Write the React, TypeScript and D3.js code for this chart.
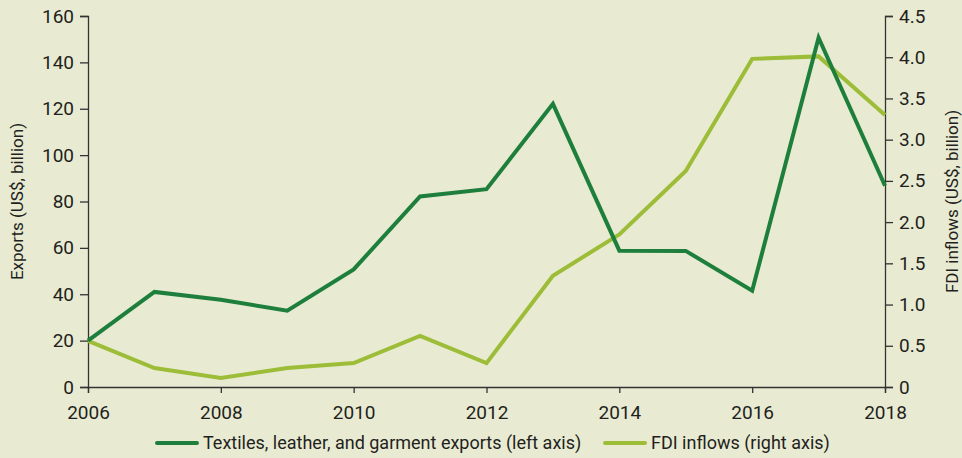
import React, { useEffect, useRef } from 'react';
import * as d3 from 'd3';

// Data
const years = [2006, 2007, 2008, 2009, 2010, 2011, 2012, 2013, 2014, 2015, 2016, 2017, 2018];
const exportsValues = [20, 41, 37.6, 32.9, 50.7, 82.2, 85.3, 122.1, 58.8, 58.7, 41.5, 150.6, 86.8];
const fdiValues = [0.56, 0.23, 0.11, 0.23, 0.29, 0.62, 0.29, 1.35, 1.85, 2.62, 3.98, 4.01, 3.3];
const xTickYears = [2006, 2008, 2010, 2012, 2014, 2016, 2018];
const leftTicks = [0, 20, 40, 60, 80, 100, 120, 140, 160];
const rightTicks = [0, 0.5, 1, 1.5, 2, 2.5, 3, 3.5, 4, 4.5];
const seriesNames = ['Textiles, leather, and garment exports (left axis)', 'FDI inflows (right axis)'];

const FONT = '"Liberation Sans Narrow", "Roboto", sans-serif';
const BG = '#e8ebd2';
const DARK = '#1e7f3c';
const LIGHT = '#9dbd38';
const AXIS = '#333';

const App: React.FC = () => {
  const svgRef = useRef<SVGSVGElement>(null);

  useEffect(() => {
    document.body.style.margin = '0';
    document.body.style.background = BG;

    const width = 962;
    const height = 458;
    const margin = { top: 16, right: 77, bottom: 71, left: 88 };

    const svg = d3.select(svgRef.current);
    svg.selectAll('*').remove();
    svg.attr('width', width).attr('height', height);

    svg.append('rect').attr('width', width).attr('height', height).attr('fill', BG);

    const xScale = d3
      .scaleLinear()
      .domain([2006, 2018])
      .range([margin.left, width - margin.right]);
    const yLeft = d3
      .scaleLinear()
      .domain([0, 160])
      .range([height - margin.bottom, margin.top]);
    const yRight = d3
      .scaleLinear()
      .domain([0, 4.5])
      .range([height - margin.bottom, margin.top]);

    const styleAxis = (g: d3.Selection<SVGGElement, unknown, null, undefined>) => {
      g.select('.domain').attr('stroke', AXIS).attr('stroke-width', 1.3);
      g.selectAll('.tick line').attr('stroke', AXIS).attr('stroke-width', 1.3);
      g.selectAll('.tick text')
        .attr('fill', '#231f20')
        .style('font-family', FONT)
        .style('font-size', '19px');
    };

    // bottom axis
    svg
      .append('g')
      .attr('transform', `translate(0, ${height - margin.bottom})`)
      .call(
        d3
          .axisBottom(xScale)
          .tickValues(xTickYears)
          .tickFormat(d3.format('d'))
          .tickSizeOuter(0)
          .tickSize(6)
          .tickPadding(13)
      )
      .call(styleAxis);

    // left axis
    svg
      .append('g')
      .attr('transform', `translate(${margin.left}, 0)`)
      .call(d3.axisLeft(yLeft).tickValues(leftTicks).tickSizeOuter(0).tickSize(8).tickPadding(6))
      .call(styleAxis);

    // right axis
    svg
      .append('g')
      .attr('transform', `translate(${width - margin.right}, 0)`)
      .call(
        d3
          .axisRight(yRight)
          .tickValues(rightTicks)
          .tickFormat((d) => (d === 0 ? '0' : d3.format('.1f')(d as number)))
          .tickSizeOuter(0)
          .tickSize(8)
          .tickPadding(6)
      )
      .call(styleAxis);

    // axis titles
    svg
      .append('text')
      .attr('transform', `translate(23, ${(height - margin.bottom + margin.top) / 2}) rotate(-90)`)
      .attr('text-anchor', 'middle')
      .attr('fill', '#231f20')
      .style('font-family', FONT)
      .style('font-size', '17px')
      .text('Exports (US$, billion)');

    svg
      .append('text')
      .attr('transform', `translate(958, ${(height - margin.bottom + margin.top) / 2}) rotate(-90)`)
      .attr('text-anchor', 'middle')
      .attr('fill', '#231f20')
      .style('font-family', FONT)
      .style('font-size', '17px')
      .text('FDI inflows (US$, billion)');

    // lines
    const fdiLine = d3
      .line<number>()
      .x((_, i) => xScale(years[i]))
      .y((d) => yRight(d));
    const exportsLine = d3
      .line<number>()
      .x((_, i) => xScale(years[i]))
      .y((d) => yLeft(d));

    svg
      .append('path')
      .datum(fdiValues)
      .attr('fill', 'none')
      .attr('stroke', LIGHT)
      .attr('stroke-width', 4)
      .attr('d', fdiLine);

    svg
      .append('path')
      .datum(exportsValues)
      .attr('fill', 'none')
      .attr('stroke', DARK)
      .attr('stroke-width', 4)
      .attr('d', exportsLine);

    // legend
    const legendY = 443;
    const legendItems = [
      { name: seriesNames[0], color: DARK, x: 157 },
      { name: seriesNames[1], color: LIGHT, x: 605 },
    ];
    legendItems.forEach((item) => {
      svg
        .append('line')
        .attr('x1', item.x)
        .attr('x2', item.x + 40)
        .attr('y1', legendY)
        .attr('y2', legendY)
        .attr('stroke', item.color)
        .attr('stroke-width', 4)
        .attr('stroke-linecap', 'round');
      svg
        .append('text')
        .attr('x', item.x + 46)
        .attr('y', legendY)
        .attr('dy', '0.35em')
        .attr('fill', '#231f20')
        .style('font-family', FONT)
        .style('font-size', '18px')
        .text(item.name);
    });
  }, []);

  return <svg ref={svgRef} style={{ display: 'block' }}></svg>;
};

export default App;
